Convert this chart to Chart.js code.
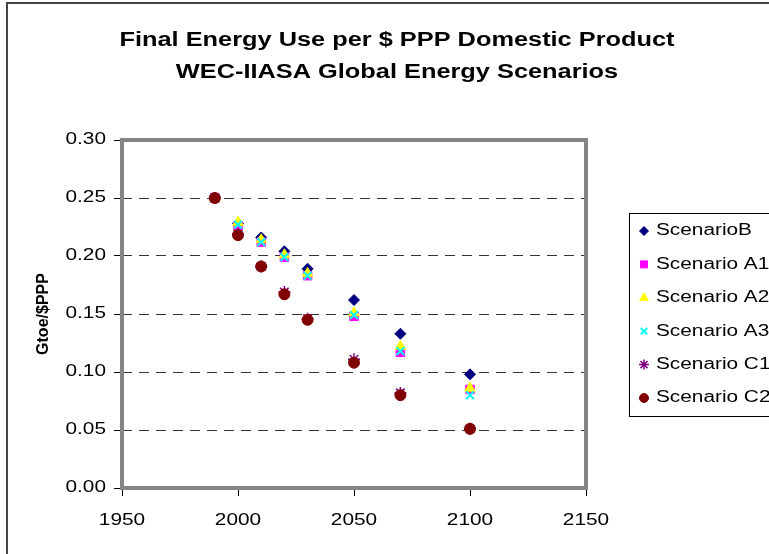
<!DOCTYPE html>
<html>
<head>
<meta charset="utf-8">
<script src="https://cdn.jsdelivr.net/npm/chart.js@4"></script>
<style>
  html, body { margin: 0; padding: 0; background: #fff; }
  canvas { display: block; }
</style>
</head>
<body>
<canvas id="energyChart" width="769" height="554"></canvas>
<script>
// --- Data ---
const years = [1990, 2000, 2010, 2020, 2030, 2050, 2070, 2100];
const scenarioB  = [0.250, 0.228, 0.216, 0.204, 0.189, 0.162, 0.133, 0.098];
const scenarioA1 = [0.250, 0.226, 0.212, 0.199, 0.183, 0.148, 0.117, 0.085];
const scenarioA2 = [0.250, 0.229, 0.214, 0.201, 0.185, 0.151, 0.122, 0.086];
const scenarioA3 = [0.250, 0.227, 0.212, 0.199, 0.183, 0.149, 0.118, 0.080];
const scenarioC1 = [0.250, 0.219, 0.191, 0.169, 0.146, 0.111, 0.082, 0.051];
const scenarioC2 = [0.250, 0.218, 0.191, 0.167, 0.145, 0.108, 0.080, 0.051];
const seriesNames = ["ScenarioB", "Scenario A1", "Scenario A2", "Scenario A3", "Scenario C1", "Scenario C2"];
const xTicks = [1950, 2000, 2050, 2100, 2150];
const yTicks = [0, 0.05, 0.1, 0.15, 0.2, 0.25, 0.3];
const titleLines = ["Final Energy Use per $ PPP Domestic Product", "WEC-IIASA Global Energy Scenarios"];
const yTitle = "Gtoe/$PPP";

const FONT = "'Liberation Sans', Arial, sans-serif";
const SX = 1.3; // the picture's text is drawn wide

// --- Styles for each series ---
const styles = [
  { pointStyle: "rectRot",  color: "#000080", radius: 5.5, border: 1 },
  { pointStyle: "rect",     color: "#FF00FF", radius: 6,   border: 1 },
  { pointStyle: "triangle", color: "#FFFF00", radius: 6,   border: 1 },
  { pointStyle: "crossRot", color: "#00FFFF", radius: 5.5, border: 2 },
  { pointStyle: "star",     color: "#800080", radius: 6,   border: 1.5 },
  { pointStyle: "circle",   color: "#800000", radius: 5.5, border: 1 },
];
const allSeries = [scenarioB, scenarioA1, scenarioA2, scenarioA3, scenarioC1, scenarioC2];

const canvas = document.getElementById("energyChart");
const ctx = canvas.getContext("2d");

// wide text: stretch horizontal (non rotated) text around its anchor
const origFill = ctx.fillText;
const origMeasure = ctx.measureText;
ctx.fillText = function (text, x, y, maxWidth) {
  const m = this.getTransform();
  if (m.b !== 0 || m.c !== 0) {
    return maxWidth === undefined ? origFill.call(this, text, x, y) : origFill.call(this, text, x, y, maxWidth);
  }
  this.save();
  this.translate(x, y);
  this.scale(SX, 1);
  if (maxWidth === undefined) origFill.call(this, text, 0, 0);
  else origFill.call(this, text, 0, 0, maxWidth / SX);
  this.restore();
};
ctx.measureText = function (text) {
  const r = origMeasure.call(this, text);
  return {
    width: r.width * SX,
    actualBoundingBoxAscent: r.actualBoundingBoxAscent,
    actualBoundingBoxDescent: r.actualBoundingBoxDescent,
    actualBoundingBoxLeft: r.actualBoundingBoxLeft * SX,
    actualBoundingBoxRight: r.actualBoundingBoxRight * SX,
  };
};

// --- Plugins: outer frame, title, plot frame, legend ---
const decorations = {
  id: "decorations",
  beforeDraw(chart) {
    const c = chart.ctx;
    c.save();
    c.fillStyle = "#fff";
    c.fillRect(0, 0, chart.width, chart.height);
    c.strokeStyle = "#444";
    c.lineWidth = 2;
    c.strokeRect(7, 3, 900, 900);
    c.fillStyle = "#000";
    c.font = "bold 19.5px " + FONT;
    c.textAlign = "center";
    c.textBaseline = "middle";
    c.fillText(titleLines[0], 397, 41);
    c.fillText(titleLines[1], 397, 73);
    c.restore();
  },
  beforeDatasetsDraw(chart) {
    const a = chart.chartArea;
    const c = chart.ctx;
    c.save();
    c.strokeStyle = "#858585";
    c.lineWidth = 4;
    c.strokeRect(a.left, a.top, a.right - a.left, a.bottom - a.top);
    c.restore();
  },
  afterDraw(chart) {
    const c = chart.ctx;
    c.save();
    c.strokeStyle = "#000";
    c.lineWidth = 1;
    c.strokeRect(629.5, 213.5, 200, 203);
    c.font = "16px " + FONT;
    c.textAlign = "left";
    c.textBaseline = "middle";
    seriesNames.forEach((name, i) => {
      const y = 231 + i * 33.4;
      const s = styles[i];
      c.fillStyle = s.color;
      c.strokeStyle = s.color;
      c.lineWidth = s.border;
      Chart.helpers.drawPoint(c, { pointStyle: s.pointStyle, radius: s.radius - 1, rotation: 0, borderWidth: s.border }, 644, y);
      c.fillStyle = "#000";
      c.fillText(name, 656, y);
    });
    c.restore();
  },
};

const datasets = allSeries.map((values, i) => ({
  label: seriesNames[i],
  data: years.map((x, j) => ({ x: x, y: values[j] })),
  pointStyle: styles[i].pointStyle,
  pointRadius: styles[i].radius,
  pointBorderWidth: styles[i].border,
  backgroundColor: styles[i].color,
  borderColor: styles[i].color,
  showLine: false,
  order: seriesNames.length - 1 - i,
}));

new Chart(ctx, {
  type: "scatter",
  data: { datasets: datasets },
  options: {
    responsive: false,
    animation: false,
    devicePixelRatio: 1,
    layout: { padding: { left: 0, top: 140, right: 183, bottom: 0 } },
    plugins: {
      legend: { display: false },
      title: { display: false },
      tooltip: { enabled: false },
    },
    scales: {
      x: {
        type: "linear",
        min: 1950,
        max: 2150,
        afterBuildTicks: (s) => { s.ticks = xTicks.map((v) => ({ value: v })); },
        afterFit: (s) => { s.height = 66; },
        ticks: {
          color: "#000",
          font: { family: FONT, size: 16 },
          padding: 15,
          maxRotation: 0,
          autoSkip: false,
          callback: (v) => String(v),
        },
        grid: { drawOnChartArea: false, drawTicks: true, tickLength: 8, color: "#000" },
        border: { display: false },
      },
      y: {
        min: 0,
        max: 0.3,
        afterBuildTicks: (s) => { s.ticks = yTicks.map((v) => ({ value: v })); },
        afterFit: (s) => { s.width = 122; },
        ticks: {
          color: "#000",
          font: { family: FONT, size: 16 },
          padding: 8,
          callback: (v) => v.toFixed(2),
        },
        grid: { color: "#333", lineWidth: 1, tickLength: 8, tickColor: "#000", tickBorderDash: [] },
        border: { display: false, dash: [10, 7] },
        title: {
          display: true,
          text: yTitle,
          color: "#000",
          font: { family: FONT, size: 16, weight: "bold" },
          padding: { top: 34, bottom: 0 },
        },
      },
    },
  },
  plugins: [decorations],
});
</script>
</body>
</html>
